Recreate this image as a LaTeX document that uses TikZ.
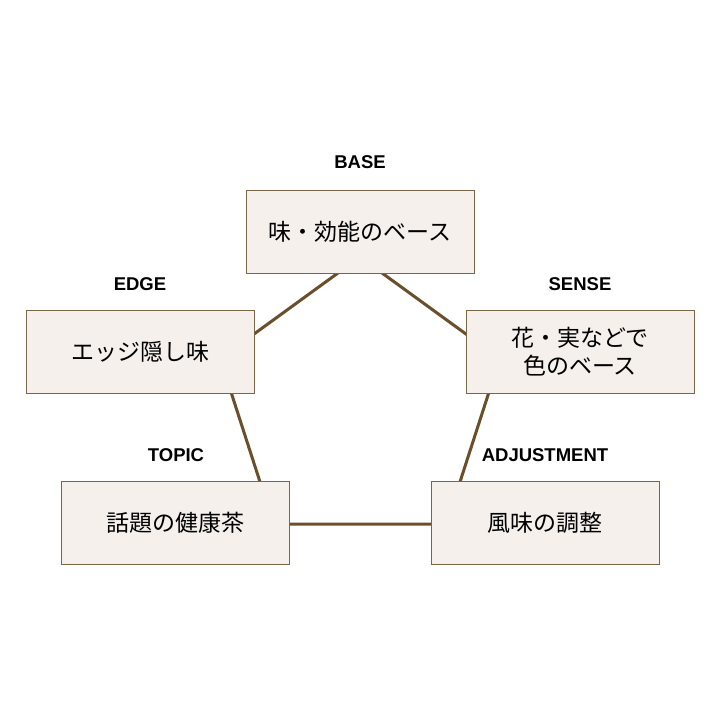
\documentclass[tikz,border=0pt]{standalone}
\usepackage{fontspec}
\setmainfont{Liberation Sans}
\newfontfamily\jpfont{Noto Sans CJK JP}
\definecolor{linebrown}{HTML}{6B4F2A}
\definecolor{boxfill}{HTML}{F5F0EB}
\definecolor{boxedge}{HTML}{7A6548}
\begin{document}
\begin{tikzpicture}[x=1pt,y=-1pt,
  card/.style={draw=boxedge,line width=1pt,fill=boxfill,minimum width=228pt,minimum height=83pt,inner sep=0pt,align=center,font=\jpfont\fontsize{23}{28}\selectfont},
  tag/.style={font=\bfseries\fontsize{18.5}{22}\selectfont,text=black},
  edge/.style={draw=linebrown,line width=3pt}]
\useasboundingbox[fill=white] (0,0) rectangle (721,721);
% pentagon vertices
\coordinate (pT) at (360,257);
\coordinate (pL) at (220.2,358.6);
\coordinate (pR) at (499.8,358.6);
\coordinate (pBL) at (273.6,524);
\coordinate (pBR) at (446.4,524);
\draw[edge] (pT) -- (pL) -- (pBL) -- (pBR) -- (pR) -- cycle;
% boxes
\node[card] (base) at (360,231.5) {味・効能のベース};
\node[card] (edgebox) at (140,351.5) {エッジ隠し味};
\node[card] (sense) at (580,351.5) {花・実などで\\色のベース};
\node[card] (topic) at (175.5,522.5) {話題の健康茶};
\node[card] (adj) at (545,522.5) {風味の調整};
% labels
\node[tag] (lbase) at (360,162) {BASE};
\node[tag] (ledge) at (140,284) {EDGE};
\node[tag] (lsense) at (580,284) {SENSE};
\node[tag] (ltopic) at (176,455) {TOPIC};
\node[tag] (ladj) at (545,455) {ADJUSTMENT};
\end{tikzpicture}
\end{document}
